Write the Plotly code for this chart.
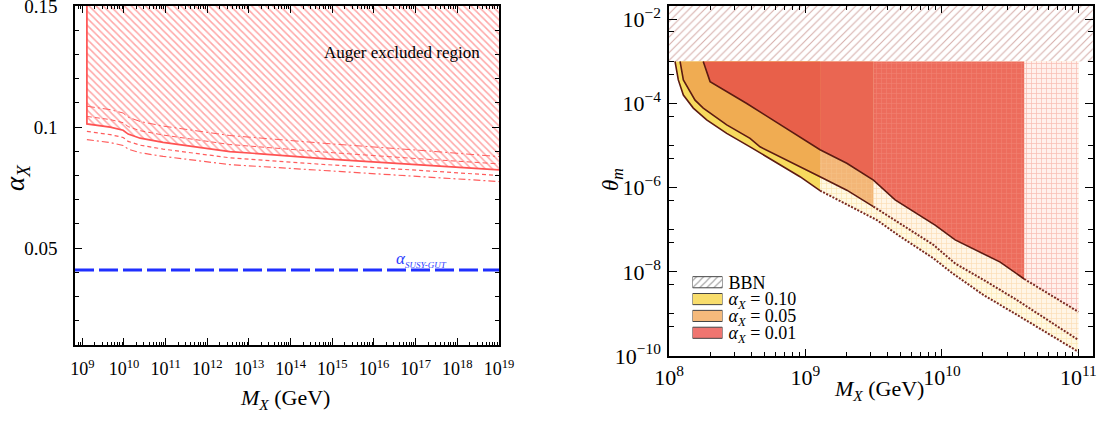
import numpy as np
import plotly.graph_objects as go

# ---------------- left panel: Auger bound on the coupling ----------------
M_AUGER = [1.29e9, 4.68e9, 9.55e9, 1.26e10, 2.45e10, 8.71e10, 3.47e12, 1.05e15, 1.26e17, 1.0e19]
ALPHA_SOLID = [0.1013, 0.1000, 0.0987, 0.0971, 0.0954, 0.0937, 0.0899, 0.0867, 0.0844, 0.0823]
ALPHA_UP_DASHDOT = [0.1086, 0.1072, 0.1058, 0.1041, 0.1023, 0.1004, 0.0965, 0.0930, 0.0904, 0.0878]
ALPHA_UP_DASH = [0.1044, 0.1031, 0.1018, 0.1002, 0.0985, 0.0967, 0.0928, 0.0894, 0.0869, 0.0848]
ALPHA_LO_DASH = [0.0982, 0.0969, 0.0957, 0.0941, 0.0925, 0.0909, 0.0873, 0.0843, 0.0821, 0.0800]
ALPHA_LO_DASHDOT = [0.0948, 0.0936, 0.0924, 0.0909, 0.0894, 0.0879, 0.0845, 0.0817, 0.0796, 0.0775]
ALPHA_SUSY_GUT = 0.041
ALPHA_RANGE = [0.01, 0.15]
LEFT_X_EXP = list(range(9, 20))
LEFT_Y_TICKS = [0.05, 0.1, 0.15]
LEFT_Y_TEXT = ["0.05", "0.1", "0.15"]

# ---------------- right panel: mixing angle bounds ----------------
THETA_BBN = 1e-3          # BBN excludes mixing above this
THETA_MAX = 1.0

M_Y10 = [1.107e8, 1.170e8, 1.274e8, 1.507e8, 1.888e8, 2.649e8, 3.926e8, 6.166e8, 9.12e8,
         1.279e9, 2.123e9, 3.334e9, 4.943e9, 8.670e9, 1.189e10, 2.014e10, 3.540e10, 6.209e10, 1.0e11]
TH_Y10 = [1.0e-3, 3.63e-4, 1.58e-4, 7.76e-5, 4.07e-5, 1.95e-5, 9.33e-6, 3.80e-6, 1.82e-6,
          8.51e-7, 3.55e-7, 1.70e-7, 6.92e-8, 2.09e-8, 9.33e-9, 2.82e-9, 9.55e-10, 3.16e-10, 1.26e-10]

M_Y05 = [1.205e8, 1.274e8, 1.552e8, 1.782e8, 2.649e8, 3.926e8, 4.645e8, 7.295e8, 1.279e9,
         2.009e9, 3.148e9, 4.943e9, 8.670e9, 1.250e10, 2.014e10, 3.540e10, 6.209e10, 1.0e11]
TH_Y05 = [1.0e-3, 3.63e-4, 1.20e-4, 7.76e-5, 3.09e-5, 1.48e-5, 9.33e-6, 4.57e-6, 1.82e-6,
          8.71e-7, 3.55e-7, 1.41e-7, 4.37e-8, 1.58e-8, 6.46e-9, 2.14e-9, 6.61e-10, 2.40e-10]

M_Y01 = [1.782e8, 2.000e8, 3.715e8, 4.645e8, 6.887e8, 1.279e9, 2.009e9, 3.148e9, 4.539e9,
         6.368e9, 8.913e9, 1.250e10, 1.905e10, 2.673e10, 4.009e10, 6.209e10, 1.0e11]
TH_Y01 = [1.0e-3, 3.31e-4, 1.0e-4, 6.31e-5, 2.82e-5, 7.94e-6, 3.80e-6, 1.51e-6, 5.13e-7,
          2.51e-7, 1.29e-7, 5.75e-8, 2.95e-8, 1.70e-8, 6.76e-9, 2.82e-9, 1.12e-9]

M_SOLID_END = 1.279e9     # fully computed region ends here
M_MID_END = 3.148e9       # alpha=0.05 boundary line ends here
M_RED_END = 4.009e10      # alpha=0.01 boundary line ends here
M_HI = 1.0e11

RIGHT_X_EXP = [8, 9, 10, 11]
RIGHT_Y_EXP = [-10, -8, -6, -4, -2]
LEGEND_LABELS = ["BBN",
                 "<i>α</i><sub><i>X</i></sub> = 0.10",
                 "<i>α</i><sub><i>X</i></sub> = 0.05",
                 "<i>α</i><sub><i>X</i></sub> = 0.01"]
LEGEND_COLORS = ["#ffffff", "#f8dd6c", "#f5ba7c", "#ef7570"]
LEGEND_SIZE = [1, 1, 1, 1]

W, H = 1099, 421
SERIF = "Liberation Serif"
BBN_HATCH = "#ad5f58"


def fx(p):
    return p / W


def fy(p):
    return 1 - p / H


def pick(m, t, lo, hi):
    m = np.asarray(m, dtype=float)
    t = np.asarray(t, dtype=float)
    k = (m >= lo * 0.999) & (m <= hi * 1.001)
    return list(m[k]), list(t[k])


def band(m, t, lo, hi, top=THETA_BBN):
    xs, ys = pick(m, t, lo, hi)
    return xs + [xs[-1], xs[0]], ys + [top, top]


fig = go.Figure()

# Auger hatched region
ax_x = M_AUGER + [M_AUGER[-1], M_AUGER[0]]
ax_y = ALPHA_SOLID + [ALPHA_RANGE[1], ALPHA_RANGE[1]]
fig.add_trace(go.Scatter(
    x=ax_x, y=ax_y, fill="toself", mode="none", xaxis="x", yaxis="y",
    fillcolor="rgba(255,255,255,0)",
    fillpattern=dict(shape="\\", fgcolor="#ff4d4d", bgcolor="rgba(255,255,255,0)",
                     size=5, solidity=0.3),
    showlegend=False, hoverinfo="skip"))

red_l = "#ff5c5c"
for ys, dash, w in [(ALPHA_UP_DASHDOT, "8px,3px,2px,3px", 1.0),
                    (ALPHA_UP_DASH, "5px,3px", 1.0),
                    (ALPHA_LO_DASH, "4px,3px", 1.2),
                    (ALPHA_LO_DASHDOT, "7px,3px,2px,3px", 1.2)]:
    fig.add_trace(go.Scatter(x=M_AUGER, y=ys, mode="lines", xaxis="x", yaxis="y",
                             line=dict(color=red_l, width=w, dash=dash),
                             showlegend=False, hoverinfo="skip"))
fig.add_trace(go.Scatter(x=[M_AUGER[0]] + M_AUGER, y=[ALPHA_RANGE[1]] + ALPHA_SOLID,
                         mode="lines", xaxis="x", yaxis="y",
                         line=dict(color="#ff5252", width=1.7),
                         showlegend=False, hoverinfo="skip"))

# ---------------- right panel layers ----------------
def add_fill(xs, ys, color, pattern=None):
    kw = dict(x=xs, y=ys, fill="toself", mode="none", xaxis="x2", yaxis="y2",
              fillcolor=color, showlegend=False, hoverinfo="skip")
    if pattern is not None:
        shape, fg, size, sol = pattern
        kw["fillpattern"] = dict(shape=shape, fgcolor=fg, bgcolor=color,
                                 size=size, solidity=sol)
    fig.add_trace(go.Scatter(**kw))


# BBN band
bx0, bx1 = 10 ** 7.5, 10 ** 11.5
add_fill([bx0, bx1, bx1, bx0], [THETA_BBN, THETA_BBN, THETA_MAX, THETA_MAX],
         "#ffffff", ("/", BBN_HATCH, 5.5, 0.2))

BRICK = "+"
add_fill(*band(M_Y10, TH_Y10, M_SOLID_END, M_HI), "#fff9e4", (BRICK, "#f9d27c", 5, 0.25))
add_fill(*band(M_Y05, TH_Y05, M_MID_END, M_HI), "#fff5e6", (BRICK, "#f8c584", 5, 0.25))
add_fill(*band(M_Y05, TH_Y05, M_SOLID_END, M_MID_END), "#f3b677", (BRICK, "#f7c995", 5, 0.22))
add_fill(*band(M_Y01, TH_Y01, M_RED_END, M_HI), "#fff0ec", (BRICK, "#f28b7d", 5, 0.28))
add_fill(*band(M_Y01, TH_Y01, M_MID_END, M_RED_END), "#ed6c5c", (BRICK, "#f39585", 5, 0.24))
add_fill(*band(M_Y01, TH_Y01, M_SOLID_END, M_MID_END), "#ea6652")

add_fill(*band(M_Y10, TH_Y10, 0, M_SOLID_END), "#f7da5e")
add_fill(*band(M_Y05, TH_Y05, 0, M_SOLID_END), "#f0ac52")
add_fill(*band(M_Y01, TH_Y01, 0, M_SOLID_END), "#e8604a")

dark = "#5c1a12"
for m, t, cut in [(M_Y10, TH_Y10, M_SOLID_END), (M_Y05, TH_Y05, M_MID_END),
                  (M_Y01, TH_Y01, M_RED_END)]:
    xs, ys = pick(m, t, 0, cut)
    fig.add_trace(go.Scatter(x=xs, y=ys, mode="lines", xaxis="x2", yaxis="y2",
                             line=dict(color=dark, width=1.6),
                             showlegend=False, hoverinfo="skip"))
    xs, ys = pick(m, t, cut, M_HI)
    fig.add_trace(go.Scatter(x=xs, y=ys, mode="lines", xaxis="x2", yaxis="y2",
                             line=dict(color="#7a2a22", width=2, dash="2px,1.5px"),
                             showlegend=False, hoverinfo="skip"))

# legend swatches on a small inset axis
fig.add_trace(go.Bar(
    x=LEGEND_SIZE, y=LEGEND_LABELS, orientation="h", xaxis="x3", yaxis="y3",
    width=0.66, showlegend=False, hoverinfo="skip",
    marker=dict(color=LEGEND_COLORS,
                line=dict(color="#444444", width=1),
                pattern=dict(shape=["/", "", "", ""], fgcolor=BBN_HATCH,
                             size=5, solidity=0.22))))

# ---------------- axes ----------------
axis_common = dict(showline=True, linecolor="black", linewidth=1.5, mirror="ticks",
                   ticks="inside", tickcolor="black", tickwidth=1, showgrid=False,
                   zeroline=False, automargin=False, ticklabeloverflow="allow")

left_minor_x = [d * 10.0 ** k for k in range(8, 19) for d in range(2, 10)]
right_minor_x = [d * 10.0 ** k for k in range(8, 11) for d in range(2, 10)]
right_minor_y = [10.0 ** k for k in (-9, -7, -5, -3)] + [5 * 10.0 ** k for k in range(-10, -1)]

fig.update_layout(
    width=W, height=H, margin=dict(l=0, r=0, t=0, b=0),
    paper_bgcolor="white", plot_bgcolor="white", showlegend=False,
    barmode="overlay", font=dict(family=SERIF, color="black"),
    xaxis=dict(axis_common, domain=[fx(75), fx(499)], type="log", range=[8.825, 19],
               anchor="y", tickvals=[10.0 ** e for e in LEFT_X_EXP],
               ticktext=[f"10<sup>{e}</sup>" for e in LEFT_X_EXP],
               ticklen=7, ticklabelstandoff=7,
               tickfont=dict(family=SERIF, size=18, color="black"),
               minor=dict(ticks="inside", ticklen=3.5, tickcolor="black",
                          tickvals=left_minor_x)),
    yaxis=dict(axis_common, domain=[fy(345), fy(6)], range=ALPHA_RANGE,
               anchor="x", tickvals=LEFT_Y_TICKS, ticktext=LEFT_Y_TEXT,
               ticklen=7, ticklabelstandoff=12,
               tickfont=dict(family=SERIF, size=19, color="black"),
               minor=dict(ticks="inside", ticklen=4, tickcolor="black", dtick=0.01,
                          tick0=0)),
    xaxis2=dict(axis_common, domain=[fx(669), fx(1092.7)], type="log", range=[8, 11.105],
                anchor="y2", tickvals=[10.0 ** e for e in RIGHT_X_EXP],
                ticktext=[f"10<sup>{e}</sup>" for e in RIGHT_X_EXP],
                ticklen=7, ticklabelstandoff=1,
                tickfont=dict(family=SERIF, size=22, color="black"),
                minor=dict(ticks="inside", ticklen=4, tickcolor="black",
                           tickvals=right_minor_x)),
    yaxis2=dict(axis_common, domain=[fy(356), fy(6)], type="log", range=[-10, -1.684],
                anchor="x2", tickvals=[10.0 ** e for e in RIGHT_Y_EXP],
                ticktext=[f"10<sup>−{-e}</sup>" for e in RIGHT_Y_EXP],
                ticklen=8, ticklabelstandoff=2,
                tickfont=dict(family=SERIF, size=22, color="black"),
                minor=dict(ticks="inside", ticklen=5, tickcolor="black",
                           tickvals=right_minor_y)),
    xaxis3=dict(domain=[fx(692.5), fx(722.5)], range=[0, 1], anchor="y3",
                visible=False, fixedrange=True, automargin=False),
    yaxis3=dict(domain=[fy(341.2), fy(273.8)], anchor="x3", side="right",
                type="category", categoryorder="array", categoryarray=LEGEND_LABELS,
                range=[3.5, -0.5], tickmode="linear", tick0=0, dtick=1,
                showline=False, showgrid=False, zeroline=False, automargin=False,
                ticks="", ticklabelstandoff=5,
                tickfont=dict(family=SERIF, size=18, color="black")),
)

fig.add_shape(type="line", xref="x domain", yref="y", x0=0, x1=1,
              y0=ALPHA_SUSY_GUT, y1=ALPHA_SUSY_GUT,
              line=dict(color="#1f2fff", width=3, dash="19px,5px"))

ann = [
    dict(text="Auger excluded region", x=fx(322), y=fy(53), xanchor="left",
         yanchor="middle", font=dict(family=SERIF, size=17, color="black")),
    dict(text="<i>α</i><sub><i><span style='font-size:9px'>SUSY-GUT</span></i></sub>",
         x=fx(394), y=fy(259), xanchor="left", yanchor="middle",
         font=dict(family=SERIF, size=17, color="#2b3bff")),
    dict(text="<i>M</i><sub><i>X</i></sub> (GeV)", x=fx(285), y=fy(399),
         xanchor="center", yanchor="middle", font=dict(family=SERIF, size=22, color="black")),
    dict(text="<i>M</i><sub><i>X</i></sub> (GeV)", x=fx(879), y=fy(390),
         xanchor="center", yanchor="middle", font=dict(family=SERIF, size=22, color="black")),
    dict(text="<i>α</i><sub><i>X</i></sub>", x=fx(17), y=fy(178), textangle=-90,
         xanchor="center", yanchor="middle", font=dict(family=SERIF, size=27, color="black")),
    dict(text="<i>θ</i><sub><i>m</i></sub>", x=fx(612), y=fy(180), textangle=-90,
         xanchor="center", yanchor="middle", font=dict(family=SERIF, size=23, color="black")),
]
for a in ann:
    fig.add_annotation(xref="paper", yref="paper", showarrow=False, **a)

fig.write_html("out.html")
